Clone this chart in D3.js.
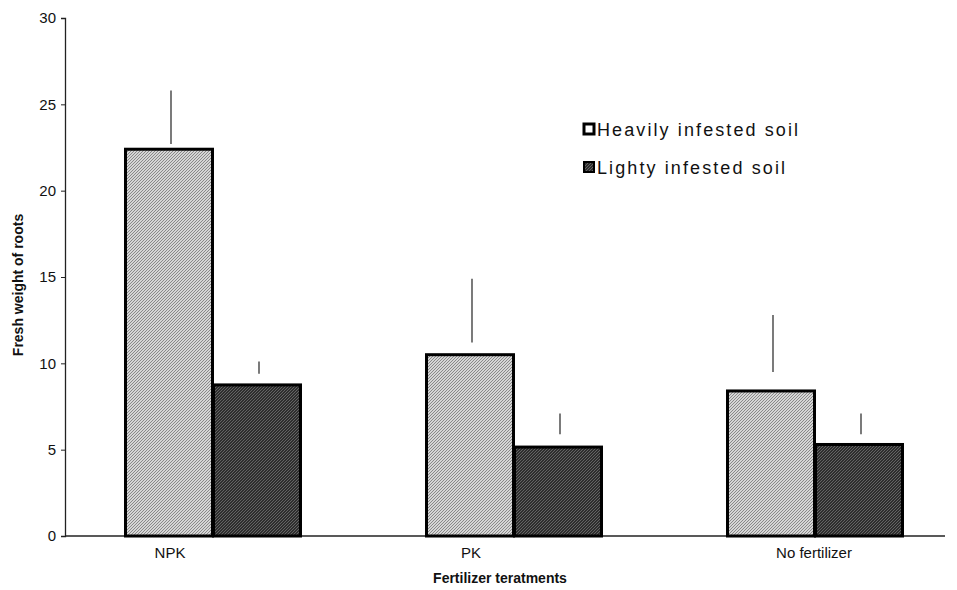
<!DOCTYPE html>
<html><head><meta charset="utf-8">
<script src="https://cdn.jsdelivr.net/npm/d3@7"></script>
<style>body{margin:0;background:#fff}svg{display:block}</style>
</head><body>
<svg id="c" width="957" height="590"></svg>
<script>
const categories = ["NPK", "PK", "No fertilizer"];
const seriesNames = ["Heavily infested soil", "Lighty infested soil"];
const heavyValues = [22.4, 10.5, 8.4];
const lightValues = [8.75, 5.15, 5.3];
const heavyErrLow = [22.7, 11.2, 9.5];
const heavyErrHigh = [25.8, 14.9, 12.8];
const lightErrLow = [9.4, 5.9, 5.9];
const lightErrHigh = [10.1, 7.1, 7.1];
const yTicks = [0, 5, 10, 15, 20, 25, 30];
const yTitle = "Fresh weight of roots";
const xTitle = "Fertilizer teratments";

const svg = d3.select("#c");
const defs = svg.append("defs");
function pat(id, bg, fg) {
  const p = defs.append("pattern").attr("id", id).attr("patternUnits", "userSpaceOnUse")
    .attr("width", 3).attr("height", 3);
  p.append("rect").attr("width", 3).attr("height", 3).attr("fill", bg);
  p.append("path").attr("d", "M0,3 L3,0 M-1,1 L1,-1 M2,4 L4,2").attr("stroke", fg).attr("stroke-width", 0.9);
}
pat("pHeavy", "#d6d6d6", "#808080");
pat("pLight", "#2e2e2e", "#6a6a6a");
const fills = ["url(#pHeavy)", "url(#pLight)"];

const y = d3.scaleLinear().domain([0, 30]).range([536, 18]);
const x0 = d3.scaleBand().domain(categories).range([61.5, 964.5]);
const x1 = d3.scaleBand().domain(seriesNames).range([0, 176]);
const groupOff = (x0.bandwidth() - 176) / 2;

// y axis
const yAxis = d3.axisLeft(y).tickValues(yTicks).tickSize(4).tickFormat(d3.format("d"));
const ga = svg.append("g").attr("transform", "translate(65,0)").call(yAxis);
ga.select(".domain").attr("stroke", "#222").attr("stroke-width", 1.3);
ga.selectAll(".tick line").attr("stroke", "#222");
ga.selectAll(".tick text").attr("font-family", "Liberation Sans, Arial, sans-serif")
  .attr("font-size", 15).attr("fill", "#111").attr("x", -9);

// x axis line
svg.append("line").attr("x1", 65).attr("x2", 945).attr("y1", y(0)).attr("y2", y(0))
  .attr("stroke", "#222").attr("stroke-width", 1.4);

const series = [
  {name: seriesNames[0], vals: heavyValues, lo: heavyErrLow, hi: heavyErrHigh},
  {name: seriesNames[1], vals: lightValues, lo: lightErrLow, hi: lightErrHigh}
];

series.forEach((s, si) => {
  const g = svg.append("g");
  g.selectAll("rect").data(categories).join("rect")
    .attr("x", c => x0(c) + groupOff + x1(s.name) + 1.5)
    .attr("width", x1.bandwidth() - 1)
    .attr("y", (c, i) => y(s.vals[i]))
    .attr("height", (c, i) => y(0) - y(s.vals[i]))
    .attr("fill", fills[si]).attr("stroke", "#000").attr("stroke-width", 3);
  g.selectAll("line").data(categories).join("line")
    .attr("x1", c => x0(c) + groupOff + x1(s.name) + x1.bandwidth() / 2 + 3)
    .attr("x2", c => x0(c) + groupOff + x1(s.name) + x1.bandwidth() / 2 + 3)
    .attr("y1", (c, i) => y(s.lo[i])).attr("y2", (c, i) => y(s.hi[i]))
    .attr("stroke", "#333").attr("stroke-width", 1.3);
});

// category labels
const labelShift = [-42, -42, 0];
svg.append("g").selectAll("text").data(categories).join("text")
  .attr("x", (c, i) => x0(c) + x0.bandwidth() / 2 + labelShift[i])
  .attr("y", 558).attr("text-anchor", "middle")
  .attr("font-family", "Liberation Sans, Arial, sans-serif")
  .attr("font-size", 15).attr("fill", "#111").text(d => d);

svg.append("text").attr("x", 500).attr("y", 583).attr("text-anchor", "middle")
  .attr("font-family", "Liberation Sans, sans-serif")
  .attr("font-weight", "bold").attr("font-size", 14).attr("fill", "#111").text(xTitle);

svg.append("text").attr("transform", "translate(23,285) rotate(-90)").attr("text-anchor", "middle")
  .attr("font-family", "Liberation Sans, sans-serif")
  .attr("font-weight", "bold").attr("font-size", 14).attr("fill", "#111").text(yTitle);

// legend
const lg = svg.append("g").attr("transform", "translate(583,0)");
seriesNames.forEach((n, i) => {
  const yy = 129 + i * 38;
  lg.append("rect").attr("x", 1).attr("y", yy - 5).attr("width", 10).attr("height", 10)
    .attr("fill", i === 0 ? "#fff" : fills[1]).attr("stroke", "#000").attr("stroke-width", i === 0 ? 3 : 2);
  lg.append("text").attr("x", 14).attr("y", yy + 7)
    .attr("font-family", "Liberation Sans, Arial, sans-serif").attr("font-size", 18)
    .attr("letter-spacing", 2.1)
    .attr("fill", "#111").text(n);
});
</script>
</body></html>
